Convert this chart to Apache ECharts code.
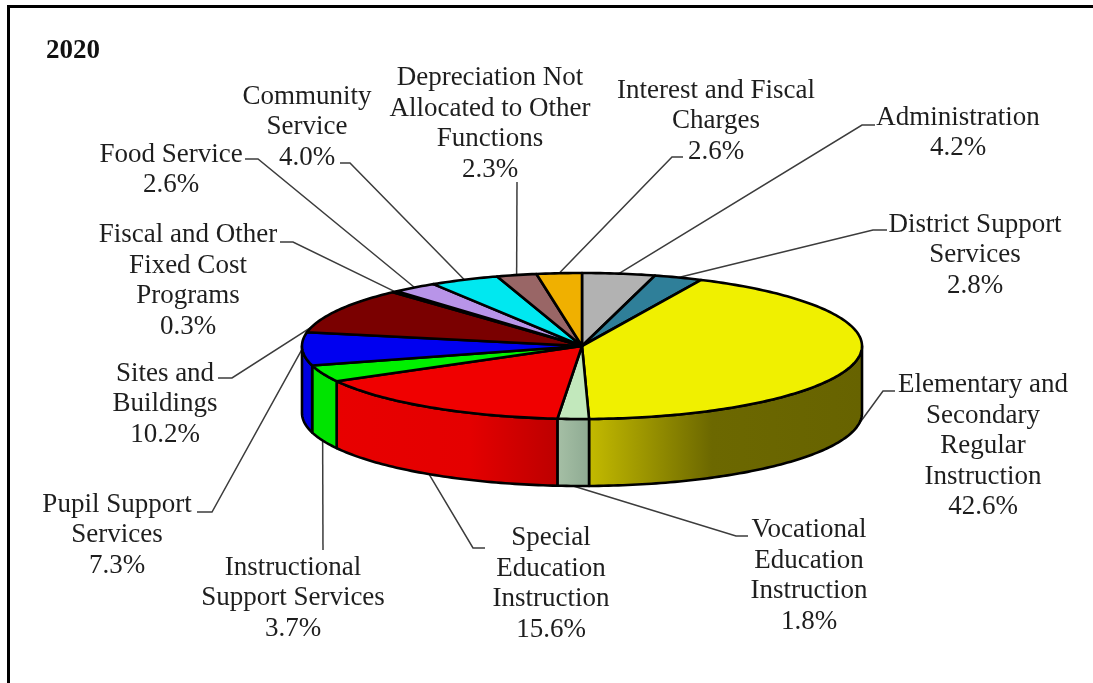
<!DOCTYPE html>
<html>
<head>
<meta charset="utf-8">
<style>html,body{margin:0;padding:0;background:#fff}#chart{width:1093px;height:683px}</style>
<script src="https://cdn.jsdelivr.net/npm/echarts@6/dist/echarts.min.js"></script>
</head>
<body>
<div id="chart"></div>
<script>
// Expenditure shares for 2020, clockwise from twelve o'clock.
const categories = [
  'Administration',
  'District Support\nServices',
  'Elementary and\nSecondary\nRegular\nInstruction',
  'Vocational\nEducation\nInstruction',
  'Special\nEducation\nInstruction',
  'Instructional\nSupport Services',
  'Pupil Support\nServices',
  'Sites and\nBuildings',
  'Fiscal and Other\nFixed Cost\nPrograms',
  'Food Service',
  'Community\nService',
  'Depreciation Not\nAllocated to Other\nFunctions',
  'Interest and Fiscal\nCharges'
];
const shares = [4.2, 2.8, 42.6, 1.8, 15.6, 3.7, 7.3, 10.2, 0.3, 2.6, 4.0, 2.3, 2.6];

const topColors = ['#b2b2b2', '#2f7f99', '#f0f000', '#c2e8bc', '#f00000', '#00f000', '#0000f0',
  '#7a0000', '#f4e6d0', '#b894e8', '#00e8f0', '#996666', '#f0b000'];
const wallColors = {
  2: [[0, '#c4bb00'], [0.45, '#6c6800'], [1, '#676300']],
  3: [[0, '#a6c0a6'], [1, '#8eaa92']],
  4: [[0, '#e80000'], [0.6, '#e40000'], [1, '#bc0000']],
  5: [[0, '#00e400'], [1, '#00e400']],
  6: [[0, '#0000e0'], [1, '#0000e0']]
};

// Label block centres, and the elbow of each leader (outer point, then the bend).
const labelCenters = [[958, 133], [975, 255], [983, 446], [809, 576], [551, 584], [293, 598], [117, 535],
  [165, 404], [188, 281], [171, 170], [307, 127], [490, 124], [716, 121]];
const leaderElbows = [
  [[875, 125], [862, 125]], [[887, 230], [873, 230]], [[895, 391], [883, 391]],
  [[748, 536], [736, 536]], [[485, 548], [473, 548]], [[323, 550]],
  [[197, 512], [212, 512]], [[218, 378], [232, 378]], [[280, 242], [293, 242]],
  [[245, 159], [258, 159]], [[340, 163], [350, 163]], [[517, 182]], [[683, 157], [672, 157]]
];

// Pie projection: tilted disc with a visible rim.
const cx = 582, cy = 346, rx = 280, ry = 73, depth = 67;
const LABEL_FONT = '"Liberation Serif", "Times New Roman", serif';

const total = shares.reduce((a, b) => a + b, 0);
const starts = [];
shares.reduce((sum, v, i) => { starts[i] = sum; return sum + v; }, 0);
const deg = v => v / total * 360;
const rimPoint = (a, dy) => {
  const r = a * Math.PI / 180;
  return [cx + rx * Math.sin(r), cy - ry * Math.cos(r) + (dy || 0)];
};
const arc = (a0, a1, dy) => {
  const pts = [];
  const n = Math.max(2, Math.ceil(Math.abs(a1 - a0)));
  for (let k = 0; k <= n; k++) pts.push(rimPoint(a0 + (a1 - a0) * k / n, dy));
  return pts;
};

function renderLeader(params) {
  const i = params.dataIndex;
  const mid = deg(starts[i] + shares[i] / 2);
  const onRim = mid >= 90 && mid <= 250;
  const pts = leaderElbows[i].concat([rimPoint(mid, onRim ? depth : 0)]);
  return {
    type: 'group',
    children: [
      { type: 'polyline', silent: true, shape: { points: pts },
        style: { stroke: '#3c3c3c', lineWidth: 1.5, fill: null } },
      { type: 'text', silent: true, style: {
          x: labelCenters[i][0], y: labelCenters[i][1],
          text: categories[i] + '\n' + shares[i].toFixed(1) + '%',
          fill: '#1e1e1e', fontFamily: LABEL_FONT, fontSize: 27, lineHeight: 30.5,
          align: 'center', verticalAlign: 'middle' } }
    ]
  };
}

function renderWall(params) {
  const i = params.dataIndex;
  const a0 = Math.max(deg(starts[i]), 90);
  const a1 = Math.min(deg(starts[i] + shares[i]), 270);
  if (a1 <= a0) return null;
  const stops = wallColors[i] || [[0, topColors[i]], [1, topColors[i]]];
  return {
    type: 'polygon', silent: true,
    shape: { points: arc(a0, a1, 0).concat(arc(a1, a0, depth)) },
    style: {
      fill: new echarts.graphic.LinearGradient(0, 0, 1, 0,
        stops.map(s => ({ offset: s[0], color: s[1] }))),
      stroke: '#000', lineWidth: 2.6, lineJoin: 'round'
    }
  };
}

function renderTop(params) {
  const i = params.dataIndex;
  const a0 = deg(starts[i]), a1 = deg(starts[i] + shares[i]);
  return {
    type: 'polygon', silent: true,
    shape: { points: [[cx, cy]].concat(arc(a0, a1, 0)) },
    style: { fill: topColors[i], stroke: '#000', lineWidth: 2.6, lineJoin: 'round' }
  };
}

const chart = echarts.init(document.getElementById('chart'), null, { renderer: 'canvas' });
chart.setOption({
  animation: false,
  backgroundColor: '#fff',
  title: {
    text: '2020', left: 41, top: 33,
    textStyle: { fontFamily: LABEL_FONT, fontWeight: 'bold', fontSize: 27, color: '#111' }
  },
  graphic: [{
    type: 'rect', silent: true, z: 0,
    shape: { x: 8.5, y: 6.5, width: 1300, height: 900 },
    style: { fill: 'none', stroke: '#000', lineWidth: 3 }
  }],
  series: [
    { type: 'custom', coordinateSystem: 'none', z: 2, data: shares, renderItem: renderLeader },
    { type: 'custom', coordinateSystem: 'none', z: 3, data: shares, renderItem: renderWall },
    { type: 'custom', coordinateSystem: 'none', z: 4, data: shares, renderItem: renderTop }
  ]
});
</script>
</body>
</html>
